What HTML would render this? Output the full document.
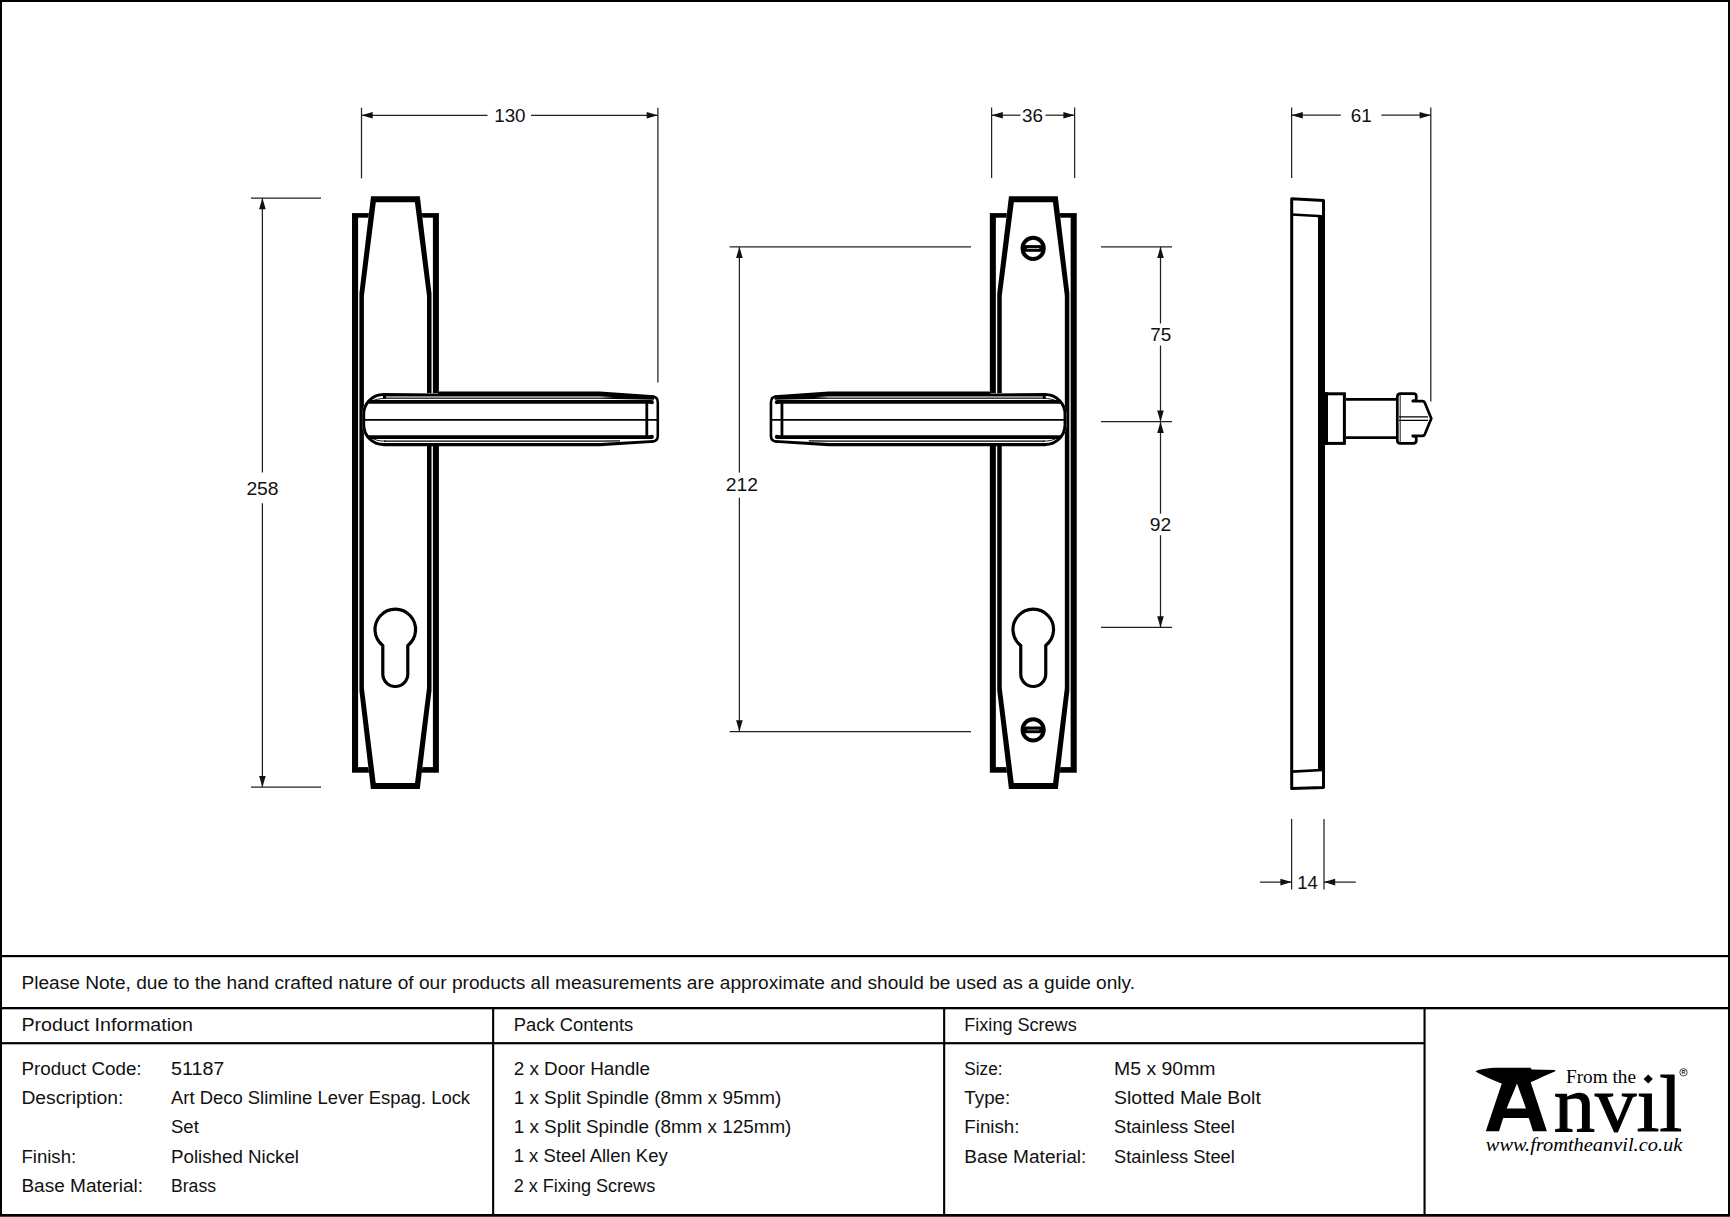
<!DOCTYPE html>
<html lang="en"><head><meta charset="utf-8"><title>Art Deco Slimline Lever Espag. Lock Set - 51187</title>
<style>html,body{margin:0;padding:0;background:#fff;}body{width:1730px;height:1217px;overflow:hidden;}svg{display:block;}</style>
</head><body>
<svg width="1730" height="1217" viewBox="0 0 1730 1217" font-family='"Liberation Sans", "DejaVu Sans", sans-serif' fill="#111">
<rect width="1730" height="1217" fill="#fff"/>
<g id="dims"><path d="M361.5,107.7 L361.5,178.3" stroke="#222" stroke-width="1.25" fill="none"/>
<path d="M657.9,107.7 L657.9,382.6" stroke="#222" stroke-width="1.25" fill="none"/>
<path d="M361.5,115.3 L487.5,115.3" stroke="#222" stroke-width="1.25" fill="none"/>
<path d="M531,115.3 L657.9,115.3" stroke="#222" stroke-width="1.25" fill="none"/>
<polygon points="361.5,115.3 372.7,112.0 372.7,118.6" fill="#111"/>
<polygon points="657.9,115.3 646.6999999999999,112.0 646.6999999999999,118.6" fill="#111"/>
<text x="509.9" y="122.45" text-anchor="middle" font-size="18.6" textLength="31.4" lengthAdjust="spacingAndGlyphs" fill="#111">130</text>
<path d="M251,198.1 L321,198.1" stroke="#222" stroke-width="1.25" fill="none"/>
<path d="M251,787.2 L321,787.2" stroke="#222" stroke-width="1.25" fill="none"/>
<path d="M262.4,198.1 L262.4,472.6" stroke="#222" stroke-width="1.25" fill="none"/>
<path d="M262.4,503.2 L262.4,787.2" stroke="#222" stroke-width="1.25" fill="none"/>
<polygon points="262.4,198.1 259.09999999999997,209.29999999999998 265.7,209.29999999999998" fill="#111"/>
<polygon points="262.4,787.2 259.09999999999997,776.0 265.7,776.0" fill="#111"/>
<text x="262.5" y="495.04999999999995" text-anchor="middle" font-size="18.6" textLength="32.2" lengthAdjust="spacingAndGlyphs" fill="#111">258</text>
<path d="M991.6,107.5 L991.6,178" stroke="#222" stroke-width="1.25" fill="none"/>
<path d="M1074.6,107.5 L1074.6,178" stroke="#222" stroke-width="1.25" fill="none"/>
<path d="M991.6,115.2 L1020.5,115.2" stroke="#222" stroke-width="1.25" fill="none"/>
<path d="M1045.5,115.2 L1074.6,115.2" stroke="#222" stroke-width="1.25" fill="none"/>
<polygon points="991.6,115.2 1002.8000000000001,111.9 1002.8000000000001,118.5" fill="#111"/>
<polygon points="1074.6,115.2 1063.3999999999999,111.9 1063.3999999999999,118.5" fill="#111"/>
<text x="1032.4" y="122.45" text-anchor="middle" font-size="18.6" textLength="21" lengthAdjust="spacingAndGlyphs" fill="#111">36</text>
<path d="M729.6,246.8 L971,246.8" stroke="#222" stroke-width="1.25" fill="none"/>
<path d="M729.6,731.5 L971,731.5" stroke="#222" stroke-width="1.25" fill="none"/>
<path d="M739.4,246.8 L739.4,472.6" stroke="#222" stroke-width="1.25" fill="none"/>
<path d="M739.4,497.7 L739.4,731.5" stroke="#222" stroke-width="1.25" fill="none"/>
<polygon points="739.4,246.8 736.1,258.0 742.6999999999999,258.0" fill="#111"/>
<polygon points="739.4,731.5 736.1,720.3 742.6999999999999,720.3" fill="#111"/>
<text x="741.9" y="490.95" text-anchor="middle" font-size="18.6" textLength="32.2" lengthAdjust="spacingAndGlyphs" fill="#111">212</text>
<path d="M1101,246.8 L1172,246.8" stroke="#222" stroke-width="1.25" fill="none"/>
<path d="M1101,421.7 L1172,421.7" stroke="#222" stroke-width="1.25" fill="none"/>
<path d="M1101,627.4 L1172,627.4" stroke="#222" stroke-width="1.25" fill="none"/>
<path d="M1160.5,246.8 L1160.5,323.5" stroke="#222" stroke-width="1.25" fill="none"/>
<path d="M1160.5,345.5 L1160.5,421.7" stroke="#222" stroke-width="1.25" fill="none"/>
<path d="M1160.5,421.7 L1160.5,513.6" stroke="#222" stroke-width="1.25" fill="none"/>
<path d="M1160.5,535.2 L1160.5,627.4" stroke="#222" stroke-width="1.25" fill="none"/>
<polygon points="1160.5,246.8 1157.2,258.0 1163.8,258.0" fill="#111"/>
<polygon points="1160.5,421.7 1157.2,410.5 1163.8,410.5" fill="#111"/>
<polygon points="1160.5,421.7 1157.2,432.9 1163.8,432.9" fill="#111"/>
<polygon points="1160.5,627.4 1157.2,616.1999999999999 1163.8,616.1999999999999" fill="#111"/>
<text x="1160.7" y="341.04999999999995" text-anchor="middle" font-size="18.6" textLength="21" lengthAdjust="spacingAndGlyphs" fill="#111">75</text>
<text x="1160.4" y="531.35" text-anchor="middle" font-size="18.6" textLength="21.4" lengthAdjust="spacingAndGlyphs" fill="#111">92</text>
<path d="M1291.6,107.5 L1291.6,178" stroke="#222" stroke-width="1.25" fill="none"/>
<path d="M1430.8,107.5 L1430.8,401.6" stroke="#222" stroke-width="1.25" fill="none"/>
<path d="M1291.6,115.2 L1340.8,115.2" stroke="#222" stroke-width="1.25" fill="none"/>
<path d="M1381.4,115.2 L1430.8,115.2" stroke="#222" stroke-width="1.25" fill="none"/>
<polygon points="1291.6,115.2 1302.8,111.9 1302.8,118.5" fill="#111"/>
<polygon points="1430.8,115.2 1419.6,111.9 1419.6,118.5" fill="#111"/>
<text x="1361.3" y="122.45" text-anchor="middle" font-size="18.6" textLength="21" lengthAdjust="spacingAndGlyphs" fill="#111">61</text>
<path d="M1291.6,818.9 L1291.6,889.5" stroke="#222" stroke-width="1.25" fill="none"/>
<path d="M1324,818.9 L1324,889.5" stroke="#222" stroke-width="1.25" fill="none"/>
<path d="M1259.9,882.1 L1291.6,882.1" stroke="#222" stroke-width="1.25" fill="none"/>
<path d="M1324,882.1 L1355.8,882.1" stroke="#222" stroke-width="1.25" fill="none"/>
<polygon points="1291.6,882.1 1280.3999999999999,878.8000000000001 1280.3999999999999,885.4" fill="#111"/>
<polygon points="1324,882.1 1335.2,878.8000000000001 1335.2,885.4" fill="#111"/>
<text x="1307.6" y="888.9499999999999" text-anchor="middle" font-size="18.6" textLength="20.6" lengthAdjust="spacingAndGlyphs" fill="#111">14</text></g>
<g id="leftview"><rect x="352" y="213.1" width="86.9" height="559.6" fill="#000"/>
<rect x="358.1" y="217.7" width="74.8" height="549.4" fill="#fff"/>
<path d="M371,196.2 L419.8,196.2 L431.5,293.2 L431.5,690.7 L419.8,789 L370.9,789 L359.4,690.7 L359.4,293.2 Z" fill="#fff"/>
<path d="M371,196.2 L419.8,196.2 L431.5,293.2 L431.5,690.7 L419.8,789 L370.9,789 L359.4,690.7 L359.4,293.2 Z M375.8,202.2 L363.9,296 L363.9,688 L375.7,783 L415,783 L427,688 L427,296 L414.9,202.2 Z" fill="#000" fill-rule="evenodd"/><path d="M382.80,645.49 A20.3,20.3 0 1 1 407.80,645.49 L407.80,674.0 A12.5,12.5 0 0 1 382.80,674.0 Z" fill="#fff" stroke="#000" stroke-width="3.2" stroke-linejoin="round"/><path d="M383.5,393 L438,393 L438,391.6 L600,391.6 L653,395.4 Q659,395.6 659,401 L659,437 Q659,442.2 653,442.4 L600,446.1 L383.5,446.1 A21.3,21.3 0 0 1 362.2,424.8 L362.2,414.3 A21.3,21.3 0 0 1 383.5,393 Z" fill="#fff"/>
<path d="M384.5,394.5 L383.5,394.5 A19.8,19.8 0 0 0 363.7,414.3 L363.7,424.8 A19.8,19.8 0 0 0 383.5,444.6 L384.5,444.6" fill="none" stroke="#000" stroke-width="3"/>
<path d="M386,398.4 C379,398.4 374,399.6 370.5,402" fill="none" stroke="#000" stroke-width="0.9"/>
<path d="M386,441.2 C379,441.2 374,439.8 370.5,437.2" fill="none" stroke="#000" stroke-width="0.9"/>
<path d="M383,393 L438,393.4 L438,391.5 L600,391.5 L654,395.3 L654,399.7 L600,398.7 L383,398.7 Z" fill="#000"/>
<path d="M386,396.1 L600,396.1 L614,397.2 L600,398 L386,398 Z" fill="#8c8c8c"/>
<path d="M367.6,401.9 L651.5,401.9" stroke="#000" stroke-width="3.8" fill="none"/>
<circle cx="651.8" cy="402.2" r="2.1" fill="#000"/>
<path d="M363,419.8 L658,419.8" stroke="#000" stroke-width="1.7" fill="none"/>
<path d="M367.6,437.1 L651.5,437.1" stroke="#000" stroke-width="3.8" fill="none"/>
<circle cx="651.8" cy="436.9" r="2.1" fill="#000"/>
<path d="M384,441.1 L600,441.1 L620,440.9" stroke="#000" stroke-width="1.3" fill="none"/>
<path d="M383,443 L600,443 L654,440 L654,442.7 L600,446.2 L383,446.2 Z" fill="#000"/>
<path d="M652,396.5 Q657.8,396.6 657.8,402.4 L657.8,436 Q657.8,441.3 652,441.5" fill="none" stroke="#000" stroke-width="2.6"/>
<path d="M646.8,402 L646.8,437" stroke="#000" stroke-width="2.8" fill="none"/></g>
<g id="midview" transform="translate(1428.75,0) scale(-1,1)"><rect x="352" y="213.1" width="86.9" height="559.6" fill="#000"/>
<rect x="358.1" y="217.7" width="74.8" height="549.4" fill="#fff"/>
<path d="M371,196.2 L419.8,196.2 L431.5,293.2 L431.5,690.7 L419.8,789 L370.9,789 L359.4,690.7 L359.4,293.2 Z" fill="#fff"/>
<path d="M371,196.2 L419.8,196.2 L431.5,293.2 L431.5,690.7 L419.8,789 L370.9,789 L359.4,690.7 L359.4,293.2 Z M375.8,202.2 L363.9,296 L363.9,688 L375.7,783 L415,783 L427,688 L427,296 L414.9,202.2 Z" fill="#000" fill-rule="evenodd"/><path d="M383.00,645.49 A20.3,20.3 0 1 1 408.00,645.49 L408.00,674.0 A12.5,12.5 0 0 1 383.00,674.0 Z" fill="#fff" stroke="#000" stroke-width="3.2" stroke-linejoin="round"/><circle cx="395.6" cy="248.45" r="10.6" fill="#fff" stroke="#000" stroke-width="4"/><rect x="386.1" y="245.1" width="19" height="6.7" fill="#000"/><rect x="389.40000000000003" y="247.95" width="12.4" height="1.1" fill="#b0b0b0"/><circle cx="395.6" cy="729.85" r="10.6" fill="#fff" stroke="#000" stroke-width="4"/><rect x="386.1" y="726.5" width="19" height="6.7" fill="#000"/><rect x="389.40000000000003" y="729.35" width="12.4" height="1.1" fill="#808080"/><path d="M383.5,393 L438,393 L438,391.6 L600,391.6 L653,395.4 Q659,395.6 659,401 L659,437 Q659,442.2 653,442.4 L600,446.1 L383.5,446.1 A21.3,21.3 0 0 1 362.2,424.8 L362.2,414.3 A21.3,21.3 0 0 1 383.5,393 Z" fill="#fff"/>
<path d="M384.5,394.5 L383.5,394.5 A19.8,19.8 0 0 0 363.7,414.3 L363.7,424.8 A19.8,19.8 0 0 0 383.5,444.6 L384.5,444.6" fill="none" stroke="#000" stroke-width="3"/>
<path d="M386,398.4 C379,398.4 374,399.6 370.5,402" fill="none" stroke="#000" stroke-width="0.9"/>
<path d="M386,441.2 C379,441.2 374,439.8 370.5,437.2" fill="none" stroke="#000" stroke-width="0.9"/>
<path d="M383,393 L438,393.4 L438,391.5 L600,391.5 L654,395.3 L654,399.7 L600,398.7 L383,398.7 Z" fill="#000"/>
<path d="M386,396.1 L600,396.1 L614,397.2 L600,398 L386,398 Z" fill="#8c8c8c"/>
<path d="M367.6,401.9 L651.5,401.9" stroke="#000" stroke-width="3.8" fill="none"/>
<circle cx="651.8" cy="402.2" r="2.1" fill="#000"/>
<path d="M363,419.8 L658,419.8" stroke="#000" stroke-width="1.7" fill="none"/>
<path d="M367.6,437.1 L651.5,437.1" stroke="#000" stroke-width="3.8" fill="none"/>
<circle cx="651.8" cy="436.9" r="2.1" fill="#000"/>
<path d="M384,441.1 L600,441.1 L620,440.9" stroke="#000" stroke-width="1.3" fill="none"/>
<path d="M383,443 L600,443 L654,440 L654,442.7 L600,446.2 L383,446.2 Z" fill="#000"/>
<path d="M652,396.5 Q657.8,396.6 657.8,402.4 L657.8,436 Q657.8,441.3 652,441.5" fill="none" stroke="#000" stroke-width="2.6"/>
<path d="M646.8,402 L646.8,437" stroke="#000" stroke-width="2.8" fill="none"/></g>
<g id="side"><path d="M1291.7,198.7 L1323.5,200.4 L1323.5,787.4 L1291.7,788.6 Z" fill="#fff" stroke="#000" stroke-width="3" stroke-linejoin="round"/>
<path d="M1318,216.5 L1325,216.5 L1325,770 L1318,770 Z" fill="#000"/>
<path d="M1291.7,214.5 L1322.6,216.3" stroke="#000" stroke-width="2.6" fill="none"/>
<path d="M1291.7,771.6 L1322.6,770" stroke="#000" stroke-width="2.6" fill="none"/>
<rect x="1325" y="393.8" width="19.4" height="49.6" fill="#fff" stroke="#000" stroke-width="3"/>
<rect x="1324" y="392.3" width="4" height="52.6" fill="#000"/>
<path d="M1345.8,399.4 H1397 M1345.8,437.6 H1397" stroke="#000" stroke-width="2.8" fill="none"/>
<path d="M1400.5,393.6 L1413.5,393.6 Q1416.3,393.6 1416.3,396.4 L1416.3,398.5 Q1416.3,400.8 1412.8,400.8 L1412.8,401.2 L1422.5,401.2 Q1424,401.2 1424.8,402.7 L1431.3,418.5 L1424.8,434.3 Q1424,435.8 1422.5,435.8 L1412.8,435.8 L1412.8,436.2 Q1416.3,436.2 1416.3,438.5 L1416.3,440.6 Q1416.3,443.4 1413.5,443.4 L1400.5,443.4 Q1397.3,443.4 1397.3,440.2 L1397.3,396.8 Q1397.3,393.6 1400.5,393.6 Z" fill="#fff" stroke="#000" stroke-width="2.7" stroke-linejoin="round"/>
<path d="M1400.2,394 V443" stroke="#000" stroke-width="0.9" fill="none"/>
<path d="M1399,416.8 H1428 M1399,420.3 H1428" stroke="#000" stroke-width="1.3" fill="none"/></g>
<g id="table"><rect x="0" y="0" width="1730" height="2" fill="#000"/>
<rect x="0" y="0" width="2" height="1217" fill="#000"/>
<rect x="1728" y="0" width="2" height="1217" fill="#000"/>
<rect x="0" y="1214" width="1730" height="2" fill="#000"/>
<rect x="0" y="1216" width="1730" height="1" fill="#404040"/>
<rect x="0" y="955" width="1730" height="2.2" fill="#000"/>
<rect x="0" y="1007" width="1730" height="2.3" fill="#000"/>
<rect x="0" y="1042.1" width="1425" height="2.2" fill="#000"/>
<rect x="492.1" y="1008" width="2.1" height="208" fill="#000"/>
<rect x="943.1" y="1008" width="2.1" height="208" fill="#000"/>
<rect x="1423.5" y="1008" width="2.1" height="208" fill="#000"/></g>
<g id="texts"><text x="21.4" y="988.7" font-size="17.5" textLength="1113.7" lengthAdjust="spacingAndGlyphs">Please Note, due to the hand crafted nature of our products all measurements are approximate and should be used as a guide only.</text>
<text x="21.4" y="1030.7" font-size="17.5" textLength="171.6" lengthAdjust="spacingAndGlyphs">Product Information</text>
<text x="513.7" y="1030.7" font-size="17.5" textLength="119.5" lengthAdjust="spacingAndGlyphs">Pack Contents</text>
<text x="964.3" y="1030.7" font-size="17.5" textLength="112.4" lengthAdjust="spacingAndGlyphs">Fixing Screws</text>
<text x="21.4" y="1075" font-size="17.5" textLength="120.2" lengthAdjust="spacingAndGlyphs">Product Code:</text>
<text x="21.4" y="1104.2" font-size="17.5" textLength="101.9" lengthAdjust="spacingAndGlyphs">Description:</text>
<text x="21.4" y="1162.6" font-size="17.5" textLength="54.8" lengthAdjust="spacingAndGlyphs">Finish:</text>
<text x="21.4" y="1191.8" font-size="17.5" textLength="121.7" lengthAdjust="spacingAndGlyphs">Base Material:</text>
<text x="171.0" y="1075" font-size="17.5" textLength="53.3" lengthAdjust="spacingAndGlyphs">51187</text>
<text x="171.0" y="1104.2" font-size="17.5" textLength="299.1" lengthAdjust="spacingAndGlyphs">Art Deco Slimline Lever Espag. Lock</text>
<text x="171.0" y="1133.4" font-size="17.5" textLength="27.8" lengthAdjust="spacingAndGlyphs">Set</text>
<text x="171.0" y="1162.6" font-size="17.5" textLength="128.0" lengthAdjust="spacingAndGlyphs">Polished Nickel</text>
<text x="171.0" y="1191.8" font-size="17.5" textLength="45.0" lengthAdjust="spacingAndGlyphs">Brass</text>
<text x="513.7" y="1075" font-size="17.5" textLength="136.2" lengthAdjust="spacingAndGlyphs">2 x Door Handle</text>
<text x="513.7" y="1103.8" font-size="17.5" textLength="267.5" lengthAdjust="spacingAndGlyphs">1 x Split Spindle (8mm x 95mm)</text>
<text x="513.7" y="1132.6000000000001" font-size="17.5" textLength="277.7" lengthAdjust="spacingAndGlyphs">1 x Split Spindle (8mm x 125mm)</text>
<text x="513.7" y="1162.3" font-size="17.5" textLength="154.0" lengthAdjust="spacingAndGlyphs">1 x Steel Allen Key</text>
<text x="513.7" y="1191.5" font-size="17.5" textLength="141.5" lengthAdjust="spacingAndGlyphs">2 x Fixing Screws</text>
<text x="964.3" y="1075" font-size="17.5" textLength="38.2" lengthAdjust="spacingAndGlyphs">Size:</text>
<text x="964.3" y="1104.2" font-size="17.5" textLength="46.0" lengthAdjust="spacingAndGlyphs">Type:</text>
<text x="964.3" y="1133.4" font-size="17.5" textLength="55.2" lengthAdjust="spacingAndGlyphs">Finish:</text>
<text x="964.3" y="1162.6" font-size="17.5" textLength="122.0" lengthAdjust="spacingAndGlyphs">Base Material:</text>
<text x="1114.1" y="1075" font-size="17.5" textLength="101.4" lengthAdjust="spacingAndGlyphs">M5 x 90mm</text>
<text x="1114.1" y="1104.2" font-size="17.5" textLength="146.7" lengthAdjust="spacingAndGlyphs">Slotted Male Bolt</text>
<text x="1114.1" y="1133.4" font-size="17.5" textLength="120.7" lengthAdjust="spacingAndGlyphs">Stainless Steel</text>
<text x="1114.1" y="1162.6" font-size="17.5" textLength="120.7" lengthAdjust="spacingAndGlyphs">Stainless Steel</text></g>
<g id="logo"><path d="M1475.6,1071.5 C1477.5,1069.4 1487,1067.8 1499.7,1067.7 L1530.4,1067.7 L1531.8,1069.4 L1555.2,1070.1 L1555.2,1071.3 C1548,1074.6 1540,1078 1530.7,1082.2 L1546.9,1131.3 L1533,1131.3 L1528.8,1118.1 L1503.2,1118.1 L1499,1131.3 L1485.8,1131.3 L1501.8,1083.6 C1495,1081 1483,1075.8 1475.6,1071.5 Z M1517,1083.6 L1506.6,1108.4 L1526,1108.4 Z" fill="#000" fill-rule="evenodd"/>
<text x="1553.8" y="1131.2" fill="#000" stroke="#000" stroke-width="1.1" font-size="81" textLength="128.5" lengthAdjust="spacingAndGlyphs" font-family='"Liberation Serif", "DejaVu Serif", serif'>nvıl</text>
<text x="1566" y="1082.6" fill="#000" font-size="18.4" textLength="70" lengthAdjust="spacingAndGlyphs" font-family='"Liberation Serif", "DejaVu Serif", serif'>From the</text>
<polygon points="1648.2,1074.4 1652.8,1078.9 1648.2,1083.4 1643.6,1078.9" fill="#000"/>
<circle cx="1683.5" cy="1072.3" r="3.7" fill="none" stroke="#000" stroke-width="0.7"/>
<text x="1683.5" y="1074.2" font-size="5.4" font-weight="bold" text-anchor="middle" font-family='"Liberation Sans", "DejaVu Sans", sans-serif'>R</text>
<text x="1485.8" y="1151.4" fill="#000" font-size="19" font-style="italic" textLength="196.5" lengthAdjust="spacingAndGlyphs" font-family='"Liberation Serif", "DejaVu Serif", serif'>www.fromtheanvil.co.uk</text></g>
</svg>
</body></html>
